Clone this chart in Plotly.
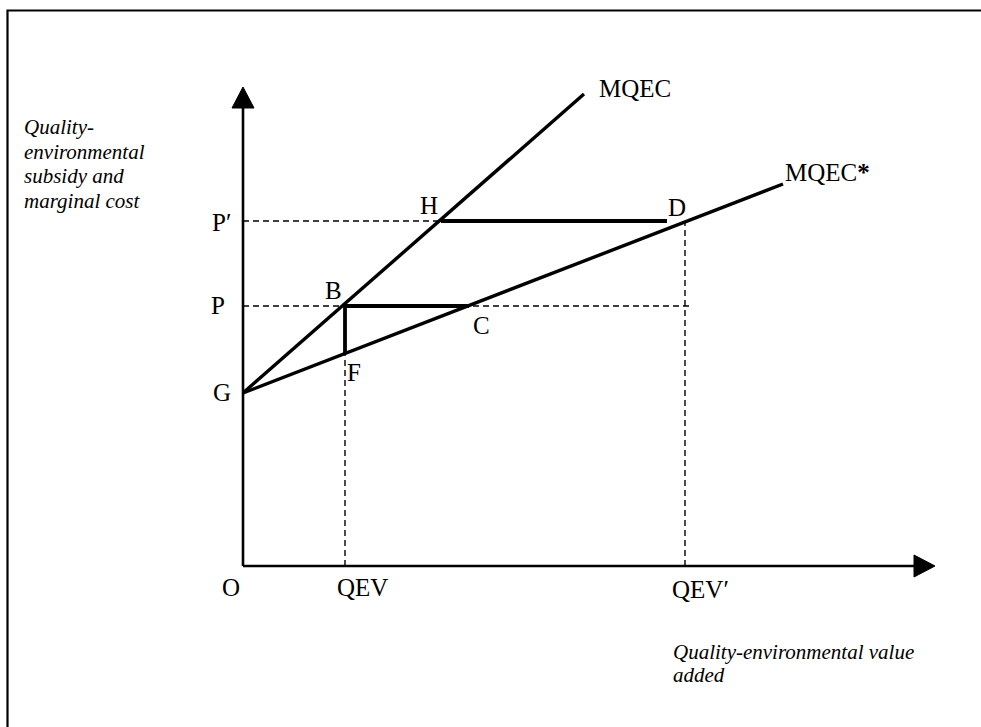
import plotly.graph_objects as go

# ---- diagram values (data units, origin O at 0,0) ----
X_AXIS_END = 692
Y_AXIS_END = 479
G_Y = 173
MQEC_END = (341, 472)
MQEC_STAR_END = (540, 382)
QEV = 102
QEV_PRIME = 442
P = 260
P_PRIME = 345
F_Y = 213
C_X = 226
H_X = 198
D_Y = 344
HD_END_X = 424
P_DASH_END = 446

point_labels = ["P\u2032", "P", "G", "O", "QEV", "QEV\u2032", "B", "F", "C", "H", "D"]
point_label_x = [-22, -25, -21, -12, 119, 457, 90, 111, 238, 186, 434]
point_label_y = [344, 261, 174, -21, -21, -23, 276, 194, 241, 361, 359]

y_title_lines = ["Quality-", "environmental", "subsidy and", "marginal cost"]
x_title_lines = ["Quality-environmental value", "added"]

FONT = "Liberation Serif"
BLACK = "black"

fig = go.Figure()

def seg(xs, ys, width, dash="solid"):
    fig.add_trace(go.Scatter(x=xs, y=ys, mode="lines",
                             line=dict(color=BLACK, width=width, dash=dash),
                             hoverinfo="skip", showlegend=False))

# dashed guide lines
DASH = "6px,4px"
seg([0, P_DASH_END], [P, P], 1.4, DASH)
seg([0, H_X], [P_PRIME, P_PRIME], 1.4, DASH)
seg([QEV, QEV], [0, F_Y], 1.4, DASH)
seg([QEV_PRIME, QEV_PRIME], [0, D_Y], 1.4, DASH)

# axes
AH = 21  # arrow head length
AW = 11  # arrow half width
seg([0, 0], [0, Y_AXIS_END - AH], 2.6)
seg([0, X_AXIS_END - AH], [0, 0], 2.6)
fig.add_trace(go.Scatter(x=[-AW, AW, 0, -AW], y=[Y_AXIS_END - AH, Y_AXIS_END - AH, Y_AXIS_END, Y_AXIS_END - AH],
                         mode="lines", fill="toself", fillcolor=BLACK,
                         line=dict(color=BLACK, width=1), hoverinfo="skip", showlegend=False))
fig.add_trace(go.Scatter(x=[X_AXIS_END - AH, X_AXIS_END - AH, X_AXIS_END, X_AXIS_END - AH], y=[-AW, AW, 0, -AW],
                         mode="lines", fill="toself", fillcolor=BLACK,
                         line=dict(color=BLACK, width=1), hoverinfo="skip", showlegend=False))

# curves
seg([0, MQEC_END[0]], [G_Y, MQEC_END[1]], 3.4)
seg([0, MQEC_STAR_END[0]], [G_Y, MQEC_STAR_END[1]], 3.4)

# bold segments
seg([QEV, C_X], [P, P], 3.8)
seg([QEV, QEV], [P, F_Y], 3.8)
seg([H_X, HD_END_X], [P_PRIME, P_PRIME], 3.8)

annotations = []
for t, x, y in zip(point_labels, point_label_x, point_label_y):
    annotations.append(dict(x=x, y=y, xref="x", yref="y", text=t, showarrow=False,
                            xanchor="center", yanchor="middle",
                            font=dict(family=FONT, size=25, color=BLACK)))
annotations.append(dict(x=MQEC_END[0] + 13, y=MQEC_END[1] + 6, xref="x", yref="y", text="MQEC",
                        showarrow=False, xanchor="left", yanchor="middle",
                        font=dict(family=FONT, size=25, color=BLACK)))
annotations.append(dict(x=MQEC_STAR_END[0], y=MQEC_STAR_END[1] + 12, xref="x", yref="y", text="MQEC<b>*</b>",
                        showarrow=False, xanchor="left", yanchor="middle",
                        font=dict(family=FONT, size=25, color=BLACK)))
for i, t in enumerate(y_title_lines):
    annotations.append(dict(x=-221, y=439 - i * 24.7, xref="x", yref="y", text="<i>%s</i>" % t,
                            showarrow=False, xanchor="left", yanchor="middle",
                            font=dict(family=FONT, size=21, color=BLACK)))
for i, t in enumerate(x_title_lines):
    annotations.append(dict(x=428, y=-86 - i * 23, xref="x", yref="y", text="<i>%s</i>" % t,
                            showarrow=False, xanchor="left", yanchor="middle",
                            font=dict(family=FONT, size=21, color=BLACK)))

fig.update_layout(
    width=981, height=727, autosize=False,
    margin=dict(l=0, r=0, t=0, b=0),
    paper_bgcolor="white", plot_bgcolor="white",
    xaxis=dict(range=[-243, 738], visible=False, fixedrange=True),
    yaxis=dict(range=[-161, 566], visible=False, fixedrange=True),
    annotations=annotations,
    shapes=[dict(type="rect", xref="paper", yref="paper",
                 x0=7.5 / 981, x1=1.05, y0=-0.05, y1=1 - 10.5 / 727,
                 line=dict(color=BLACK, width=2.2), fillcolor="rgba(0,0,0,0)")],
)

fig.write_html("out.html", config={"displayModeBar": False},
               post_script="document.body.style.margin='0';document.body.style.overflow='hidden';")
